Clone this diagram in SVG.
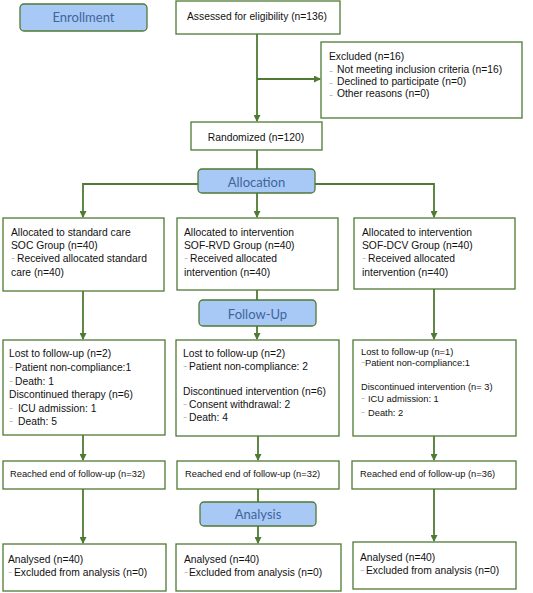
<svg xmlns="http://www.w3.org/2000/svg" width="533" height="593" viewBox="0 0 533 593">
<style>
.box{fill:#fff;stroke:#4f7a33;stroke-width:1.3}
.stage{fill:#a8c8f6;stroke:#4f7a33;stroke-width:1.3}
.st{font-family:Lato,"Open Sans",sans-serif;font-size:13px;fill:#3f659c;text-anchor:middle}
.t{font-family:"Liberation Sans",Arial,sans-serif;font-size:10.3px;fill:#111}
.s{font-family:"Liberation Sans",Arial,sans-serif;font-size:9.3px;fill:#111}
.c{text-anchor:middle}
.ln{fill:none;stroke:#4f7a33;stroke-width:1.8}
.b{font-family:"DejaVu Sans",sans-serif;font-size:8px;fill:#555}
</style>
<defs>
<marker id="ah" markerUnits="userSpaceOnUse" markerWidth="7" markerHeight="7" refX="6" refY="3.5" orient="auto">
<path d="M0,0 L7,3.5 L0,7 z" fill="#4f7a33"/>
</marker>
</defs>
<g id="connectors">
<path class="ln" d="M257,34 V121" marker-end="url(#ah)"/>
<path class="ln" d="M257,79 H320" marker-end="url(#ah)"/>
<path class="ln" d="M257,150 V169"/>
<path class="ln" d="M198,184 H83 V217" marker-end="url(#ah)"/>
<path class="ln" d="M315,184 H434 V217" marker-end="url(#ah)"/>
<path class="ln" d="M257,193 V217" marker-end="url(#ah)"/>
<path class="ln" d="M83,291 V339" marker-end="url(#ah)"/>
<path class="ln" d="M257,290 V300"/>
<path class="ln" d="M257,326 V339" marker-end="url(#ah)"/>
<path class="ln" d="M434,289 V339" marker-end="url(#ah)"/>
<path class="ln" d="M83,435 V460" marker-end="url(#ah)"/>
<path class="ln" d="M258,436 V460" marker-end="url(#ah)"/>
<path class="ln" d="M434,436 V460" marker-end="url(#ah)"/>
<path class="ln" d="M83,489 V543" marker-end="url(#ah)"/>
<path class="ln" d="M258,489 V502"/>
<path class="ln" d="M258,526 V543" marker-end="url(#ah)"/>
<path class="ln" d="M434,489 V541" marker-end="url(#ah)"/>
</g>
<g id="enrollment"><rect class="stage" x="20" y="4" width="127" height="27" rx="4"/><text class="st" x="83.5" y="22">Enrollment</text></g>
<g id="assessed"><rect class="box" x="176" y="1" width="164" height="33"/><text class="t" x="187" y="20">Assessed for eligibility (n=136)</text></g>
<g id="excluded"><rect class="box" x="321" y="42" width="201" height="76"/>
<text class="t" x="329" y="60">Excluded (n=16)</text>
<text class="b" x="329" y="75">⁻</text><text class="t" x="337" y="72.5">Not meeting inclusion criteria (n=16)</text>
<text class="b" x="329" y="87">⁻</text><text class="t" x="337" y="85">Declined to participate (n=0)</text>
<text class="b" x="329" y="99">⁻</text><text class="t" x="337" y="97">Other reasons (n=0)</text>
</g>
<g id="randomized"><rect class="box" x="191" y="122" width="131" height="28"/><text class="t c" x="256" y="141">Randomized (n=120)</text></g>
<g id="allocation"><rect class="stage" x="198" y="169" width="117" height="24" rx="4"/><text class="st" x="256.5" y="187">Allocation</text></g>
<g id="alloc-soc"><rect class="box" x="3" y="218" width="161" height="73"/>
<text class="t" x="11" y="236">Allocated to standard care</text>
<text class="t" x="11" y="249">SOC Group (n=40)</text>
<text class="b" x="11" y="262">⁻</text><text class="t" x="17" y="262">Received allocated standard</text>
<text class="t" x="11" y="276">care (n=40)</text>
</g>
<g id="alloc-rvd"><rect class="box" x="177" y="218" width="161" height="72"/>
<text class="t" x="184" y="236">Allocated to intervention</text>
<text class="t" x="184" y="249">SOF-RVD Group (n=40)</text>
<text class="b" x="184" y="262">⁻</text><text class="t" x="190" y="262">Received allocated</text>
<text class="t" x="184" y="276">intervention (n=40)</text>
</g>
<g id="alloc-dcv"><rect class="box" x="354" y="218" width="161" height="71"/>
<text class="t" x="362" y="236">Allocated to intervention</text>
<text class="t" x="362" y="249">SOF-DCV Group (n=40)</text>
<text class="b" x="362" y="262">⁻</text><text class="t" x="368" y="262">Received allocated</text>
<text class="t" x="362" y="276">intervention (n=40)</text>
</g>
<g id="followup"><rect class="stage" x="199" y="300" width="117" height="26" rx="4"/><text class="st" x="257.5" y="319">Follow-Up</text></g>
<g id="fu-soc"><rect class="box" x="3" y="340" width="162" height="95"/>
<text class="t" x="9" y="357">Lost to follow-up (n=2)</text>
<text class="b" x="9" y="371">⁻</text><text class="t" x="15" y="371">Patient non-compliance:1</text>
<text class="b" x="9" y="385">⁻</text><text class="t" x="15" y="385">Death: 1</text>
<text class="t" x="9" y="398">Discontinued therapy (n=6)</text>
<text class="b" x="9" y="412">⁻</text><text class="t" x="18" y="412">ICU admission: 1</text>
<text class="b" x="9" y="425">⁻</text><text class="t" x="18" y="425">Death: 5</text>
</g>
<g id="fu-rvd"><rect class="box" x="176" y="340" width="163" height="96"/>
<text class="t" x="183" y="357">Lost to follow-up (n=2)</text>
<text class="b" x="183" y="370">⁻</text><text class="t" x="189" y="370">Patient non-compliance: 2</text>
<text class="t" x="183" y="395">Discontinued intervention (n=6)</text>
<text class="b" x="183" y="408">⁻</text><text class="t" x="189" y="408">Consent withdrawal: 2</text>
<text class="b" x="183" y="421">⁻</text><text class="t" x="189" y="421">Death: 4</text>
</g>
<g id="fu-dcv"><rect class="box" x="353" y="340" width="163" height="96"/>
<text class="s" x="361" y="355">Lost to follow-up (n=1)</text>
<text class="b" x="361" y="366">⁻</text><text class="s" x="365" y="366">Patient non-compliance:1</text>
<text class="s" x="361" y="390">Discontinued intervention (n= 3)</text>
<text class="b" x="361" y="402">⁻</text><text class="s" x="368" y="402">ICU admission: 1</text>
<text class="b" x="361" y="416">⁻</text><text class="s" x="368" y="416">Death: 2</text>
</g>
<g id="end-soc"><rect class="box" x="3" y="461" width="162" height="28"/><text class="s" x="10" y="477">Reached end of follow-up (n=32)</text></g>
<g id="end-rvd"><rect class="box" x="177" y="461" width="162" height="28"/><text class="s" x="185" y="477">Reached end of follow-up (n=32)</text></g>
<g id="end-dcv"><rect class="box" x="352" y="461" width="164" height="28"/><text class="s" x="360" y="477">Reached end of follow-up (n=36)</text></g>
<g id="analysis"><rect class="stage" x="200" y="502" width="116" height="24" rx="4"/><text class="st" x="258" y="519">Analysis</text></g>
<g id="an-soc"><rect class="box" x="3" y="544" width="163" height="47"/>
<text class="t" x="8" y="563">Analysed (n=40)</text>
<text class="b" x="8" y="576">⁻</text><text class="t" x="14" y="576">Excluded from analysis (n=0)</text>
</g>
<g id="an-rvd"><rect class="box" x="176" y="544" width="165" height="47"/>
<text class="t" x="184" y="563">Analysed (n=40)</text>
<text class="b" x="184" y="576">⁻</text><text class="t" x="189" y="576">Excluded from analysis (n=0)</text>
</g>
<g id="an-dcv"><rect class="box" x="353" y="542" width="163" height="47"/>
<text class="t" x="360" y="561">Analysed (n=40)</text>
<text class="b" x="360" y="574">⁻</text><text class="t" x="366" y="574">Excluded from analysis (n=0)</text>
</g>
</svg>
